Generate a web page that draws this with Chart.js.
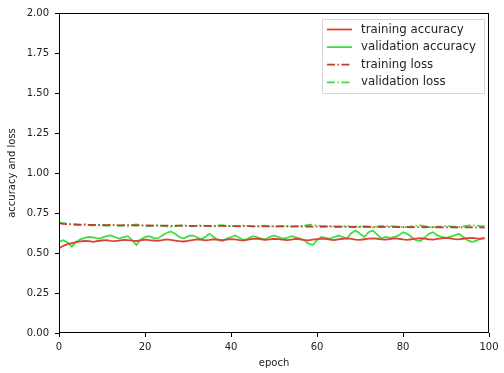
<!DOCTYPE html>
<html>
<head>
<meta charset="utf-8">
<script src="https://cdn.jsdelivr.net/npm/chart.js@4"></script>
<style>
  html, body { margin: 0; padding: 0; background: #fff; }
  #wrap { width: 504px; height: 373px; }
</style>
</head>
<body>
<div id="wrap"><canvas id="accChart" width="504" height="373"></canvas></div>
<script>
// epochs 0..99
var epochs = [];
for (var i = 0; i < 100; i++) epochs.push(i);

var trainAcc = [
  0.530, 0.545, 0.555, 0.562, 0.568, 0.572, 0.575, 0.574, 0.570, 0.575,
  0.578, 0.580, 0.576, 0.574, 0.578, 0.582, 0.580, 0.577, 0.575, 0.579,
  0.583, 0.580, 0.578, 0.576, 0.580, 0.585, 0.582, 0.578, 0.574, 0.572,
  0.576, 0.581, 0.585, 0.583, 0.579, 0.582, 0.586, 0.584, 0.580, 0.583,
  0.587, 0.585, 0.581, 0.579, 0.583, 0.588, 0.590, 0.586, 0.582, 0.585,
  0.589, 0.587, 0.583, 0.580, 0.584, 0.588, 0.586, 0.582, 0.579, 0.583,
  0.587, 0.590, 0.588, 0.584, 0.581, 0.585, 0.589, 0.591, 0.588, 0.584,
  0.582, 0.586, 0.590, 0.592, 0.589, 0.585, 0.583, 0.587, 0.591, 0.589,
  0.585, 0.582, 0.586, 0.590, 0.593, 0.590, 0.586, 0.584, 0.588, 0.592,
  0.594, 0.591, 0.587, 0.585, 0.589, 0.593, 0.595, 0.592, 0.588, 0.591
];

var valAcc = [
  0.570, 0.580, 0.565, 0.540, 0.570, 0.585, 0.595, 0.600, 0.598, 0.590,
  0.595, 0.605, 0.610, 0.600, 0.590, 0.600, 0.605, 0.580, 0.550, 0.585,
  0.600, 0.605, 0.595, 0.590, 0.610, 0.625, 0.635, 0.620, 0.600, 0.590,
  0.605, 0.610, 0.600, 0.585, 0.600, 0.620, 0.600, 0.580, 0.575, 0.590,
  0.600, 0.610, 0.595, 0.580, 0.590, 0.605, 0.600, 0.590, 0.585, 0.600,
  0.610, 0.600, 0.590, 0.595, 0.605, 0.600, 0.590, 0.580, 0.560, 0.550,
  0.580, 0.600, 0.595, 0.590, 0.600, 0.610, 0.600, 0.590, 0.625, 0.640,
  0.620, 0.600, 0.630, 0.640, 0.615, 0.590, 0.600, 0.595, 0.600, 0.610,
  0.630, 0.620, 0.600, 0.580, 0.575, 0.595, 0.620, 0.630, 0.610, 0.600,
  0.595, 0.600, 0.610, 0.620, 0.600, 0.580, 0.570, 0.575, 0.590, 0.595
];

var trainLoss = [
  0.685, 0.682, 0.680, 0.679, 0.678, 0.677, 0.677, 0.676, 0.676, 0.675,
  0.675, 0.674, 0.675, 0.674, 0.673, 0.674, 0.673, 0.673, 0.672, 0.673,
  0.672, 0.672, 0.671, 0.672, 0.671, 0.671, 0.670, 0.671, 0.671, 0.670,
  0.670, 0.669, 0.670, 0.670, 0.669, 0.669, 0.668, 0.669, 0.669, 0.668,
  0.668, 0.668, 0.667, 0.668, 0.668, 0.667, 0.667, 0.666, 0.667, 0.667,
  0.666, 0.667, 0.666, 0.666, 0.665, 0.666, 0.666, 0.665, 0.666, 0.665,
  0.665, 0.664, 0.665, 0.665, 0.664, 0.665, 0.664, 0.664, 0.663, 0.664,
  0.664, 0.663, 0.664, 0.663, 0.663, 0.662, 0.663, 0.663, 0.662, 0.663,
  0.662, 0.662, 0.661, 0.662, 0.662, 0.661, 0.662, 0.661, 0.661, 0.660,
  0.661, 0.661, 0.660, 0.661, 0.660, 0.660, 0.661, 0.660, 0.660, 0.659
];

var valLoss = [
  0.690, 0.687, 0.682, 0.680, 0.676, 0.675, 0.678, 0.674, 0.672, 0.675,
  0.673, 0.670, 0.672, 0.674, 0.671, 0.669, 0.672, 0.674, 0.678, 0.673,
  0.670, 0.668, 0.671, 0.673, 0.669, 0.666, 0.664, 0.667, 0.671, 0.673,
  0.669, 0.667, 0.669, 0.672, 0.669, 0.666, 0.668, 0.672, 0.674, 0.670,
  0.668, 0.666, 0.669, 0.671, 0.669, 0.666, 0.667, 0.669, 0.671, 0.668,
  0.665, 0.667, 0.669, 0.668, 0.666, 0.667, 0.669, 0.671, 0.675, 0.677,
  0.672, 0.668, 0.669, 0.670, 0.667, 0.665, 0.667, 0.669, 0.664, 0.661,
  0.664, 0.667, 0.663, 0.660, 0.665, 0.669, 0.667, 0.668, 0.667, 0.665,
  0.661, 0.663, 0.667, 0.671, 0.672, 0.668, 0.663, 0.661, 0.665, 0.667,
  0.668, 0.667, 0.665, 0.663, 0.667, 0.671, 0.673, 0.672, 0.669, 0.668
];

var xTicks = [0, 20, 40, 60, 80, 100];
var yTicks = [0, 0.25, 0.5, 0.75, 1.0, 1.25, 1.5, 1.75, 2.0];

var FONT = 'DejaVu Sans';
var dashDot = [8, 2.5, 1.5, 2.5];

function pts(arr) {
  return arr.map(function (v, i) { return { x: epochs[i], y: v }; });
}

// cadre complet + légende façon matplotlib
var framePlugin = {
  id: 'frame',
  afterDraw: function (chart) {
    var ctx = chart.ctx, a = chart.chartArea;
    ctx.save();
    ctx.strokeStyle = '#000';
    ctx.lineWidth = 1;
    ctx.strokeRect(a.left + 0.5, a.top + 0.5, a.right - a.left - 1, a.bottom - a.top - 1);

    // légende
    var bx = 322, by = 19, bw = 162, bh = 74;
    ctx.fillStyle = 'rgba(255,255,255,0.85)';
    ctx.strokeStyle = '#d6d6d6';
    ctx.beginPath();
    ctx.rect(bx + 0.5, by + 0.5, bw, bh);
    ctx.fill();
    ctx.stroke();
    ctx.font = '11.8px "' + FONT + '"';
    ctx.textBaseline = 'middle';
    chart.data.datasets.forEach(function (ds, i) {
      var y = 29.5 + i * 17.6;
      ctx.strokeStyle = ds.borderColor;
      ctx.lineWidth = 1.8;
      ctx.setLineDash(ds.borderDash || []);
      ctx.beginPath();
      ctx.moveTo(327, y);
      ctx.lineTo(352, y);
      ctx.stroke();
      ctx.setLineDash([]);
      ctx.fillStyle = '#222';
      ctx.fillText(ds.label, 361, y);
    });
    ctx.restore();
  }
};

new Chart(document.getElementById('accChart'), {
  type: 'line',
  data: {
    datasets: [
      { label: 'training accuracy', data: pts(trainAcc), borderColor: '#e0403a', borderWidth: 1.8 },
      { label: 'validation accuracy', data: pts(valAcc), borderColor: '#3ee03e', borderWidth: 1.8 },
      { label: 'training loss', data: pts(trainLoss), borderColor: '#b8402e', borderWidth: 1.8, borderDash: dashDot },
      { label: 'validation loss', data: pts(valLoss), borderColor: '#44d844', borderWidth: 1.8, borderDash: dashDot }
    ]
  },
  options: {
    responsive: false,
    animation: false,
    devicePixelRatio: 1,
    elements: { point: { radius: 0 }, line: { tension: 0 } },
    layout: { padding: { top: 13, right: 15, left: 0, bottom: 0 } },
    plugins: { legend: { display: false }, tooltip: { enabled: false } },
    scales: {
      x: {
        type: 'linear', min: 0, max: 100,
        afterBuildTicks: function (s) { s.ticks = xTicks.map(function (v) { return { value: v }; }); },
        afterFit: function (s) { s.height = 40; },
        grid: { drawOnChartArea: false, drawTicks: true, tickLength: 4, color: '#000' },
        border: { display: false },
        ticks: { color: '#222', font: { family: FONT, size: 10 }, padding: 4, maxRotation: 0 },
        title: { display: true, text: 'epoch', color: '#222', font: { family: FONT, size: 10 }, padding: { top: 0, bottom: 4 } }
      },
      y: {
        type: 'linear', min: 0, max: 2,
        afterBuildTicks: function (s) { s.ticks = yTicks.map(function (v) { return { value: v }; }); },
        afterFit: function (s) { s.width = 59; },
        grid: { drawOnChartArea: false, drawTicks: true, tickLength: 4, color: '#000' },
        border: { display: false },
        ticks: {
          color: '#222', font: { family: FONT, size: 10 }, padding: 6,
          callback: function (v) { return v.toFixed(2); }
        },
        title: { display: true, text: 'accuracy and loss', color: '#222', font: { family: FONT, size: 10 }, padding: { top: 6, bottom: 0 } }
      }
    }
  },
  plugins: [framePlugin]
});
</script>
</body>
</html>
